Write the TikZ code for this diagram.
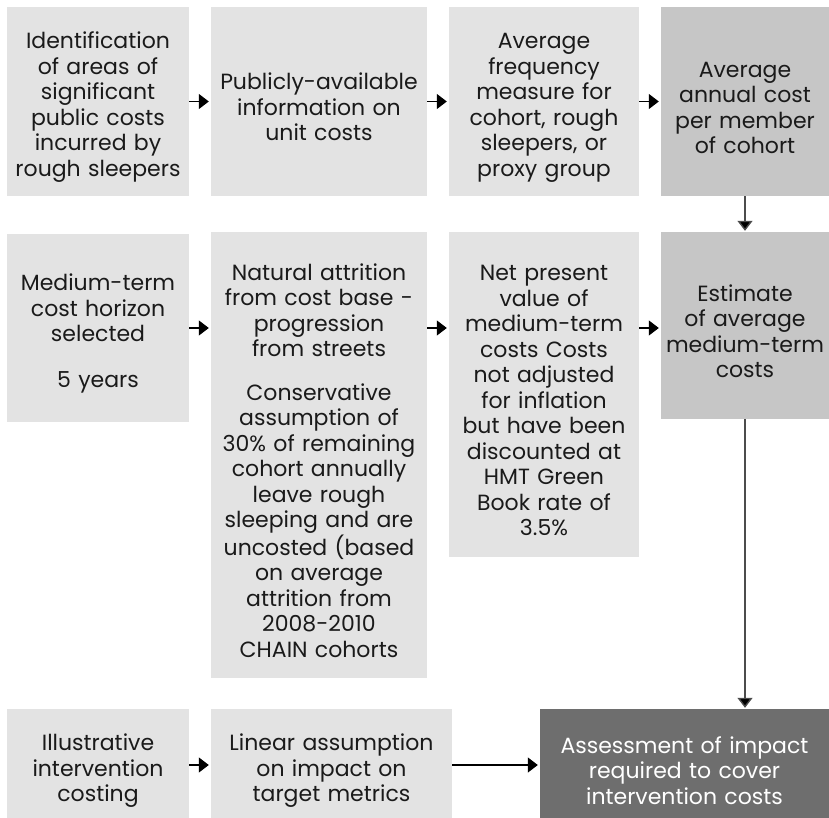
\documentclass[tikz,border=0pt]{standalone}
\usepackage{fontspec}
\setmainfont{Poppins}
\usetikzlibrary{arrows.meta}
\definecolor{lightbox}{HTML}{E3E3E3}
\definecolor{midbox}{HTML}{C6C6C6}
\definecolor{darkbox}{HTML}{6E6E6E}
\definecolor{txt}{HTML}{1A1A1A}
\tikzset{
  box/.style={fill=lightbox, inner sep=0pt, align=center, text=txt,
    font=\fontsize{22}{25.5}\selectfont,
    execute at begin node={\rule{0pt}{28pt}}},
  flow/.style={line width=1.2pt, draw=black, shorten >=2pt,
    -{Triangle[length=10pt,width=15pt]}},
  vflow/.style={line width=1.4pt, draw=black!70, shorten >=1pt,
    -{Triangle[length=10pt,width=15pt,fill=black]}},
}
\begin{document}
\begin{tikzpicture}[x=1pt,y=-1pt]
\useasboundingbox (0,0) rectangle (829,818);
% row 1
\node[box, minimum width=182pt, minimum height=189pt, text width=180pt] (b1) at (98,101.5)
  {Identification\\of areas of\\significant\\public costs\\incurred by\\rough sleepers};
\node[box, minimum width=216pt, minimum height=189pt, text width=214pt] (b2) at (319,101.5)
  {Publicly-available\\information on\\unit costs};
\node[box, minimum width=190pt, minimum height=189pt, text width=188pt] (b3) at (544,101.5)
  {Average\\frequency\\measure for\\cohort, rough\\sleepers, or\\proxy group};
\node[box, fill=midbox, minimum width=168pt, minimum height=189pt, text width=166pt] (b4) at (745,101.5)
  {Average\\annual cost\\per member\\of cohort};
% row 2
\node[box, minimum width=182pt, minimum height=188pt, text width=180pt] (b5) at (98,328)
  {Medium-term\\cost horizon\\selected\\[20pt]5 years};
\node[box, minimum width=216pt, minimum height=446pt, text width=214pt] (b6) at (319,455)
  {Natural attrition\\from cost base -\\progression\\from streets\\[18pt]Conservative\\assumption of\\30\% of remaining\\cohort annually\\leave rough\\sleeping and are\\uncosted (based\\on average\\attrition from\\2008-2010\\CHAIN cohorts};
\node[box, minimum width=190pt, minimum height=325pt, text width=188pt] (b7) at (544,394.5)
  {Net present\\value of\\medium-term\\costs Costs\\not adjusted\\for inflation\\but have been\\discounted at\\HMT Green\\Book rate of\\3.5\%};
\node[box, fill=midbox, minimum width=168pt, minimum height=187pt, text width=166pt] (b8) at (745,325.5)
  {Estimate\\of average\\medium-term\\costs};
% row 3
\node[box, minimum width=182pt, minimum height=112pt, text width=180pt] (b9) at (98,765)
  {Illustrative\\intervention\\costing};
\node[box, minimum width=241pt, minimum height=112pt, text width=239pt] (b10) at (331.5,765)
  {Linear assumption\\on impact on\\target metrics};
\node[box, fill=darkbox, text=white, minimum width=289pt, minimum height=112pt, text width=287pt] (b11) at (684.5,765)
  {Assessment of impact\\required to cover\\intervention costs};
% connectors
\draw[flow] (b1.east) -- (b2.west);
\draw[flow] (b2.east) -- (b3.west);
\draw[flow] (b3.east) -- (b4.west);
\draw[vflow] (b4.south) -- (b8.north);
\draw[flow] (b5.east) -- (b5.east -| b6.west);
\draw[flow] (b5.east -| b6.east) -- (b5.east -| b7.west);
\draw[flow] (b5.east -| b7.east) -- (b5.east -| b8.west);
\draw[vflow] (b8.south) -- (b8.south |- b11.north);
\draw[flow] (b9.east) -- (b10.west);
\draw[flow] (b10.east) -- (b11.west);
\end{tikzpicture}
\end{document}
